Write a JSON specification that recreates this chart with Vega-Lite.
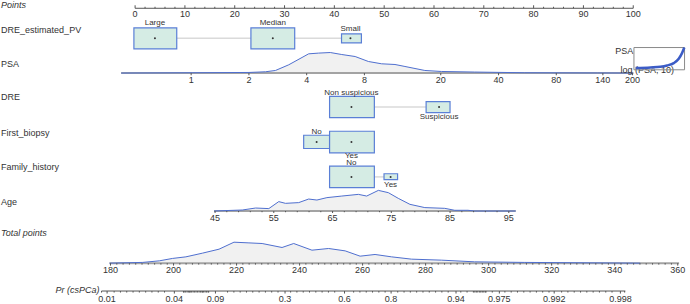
{
"$schema":"https://vega.github.io/schema/vega-lite/v6.json",
"width":690,"height":304,
"autosize":{"type":"fit","contains":"padding"},
"padding":0,
"background":"white",
"config":{"view":{"stroke":null},"text":{"font":"Liberation Sans","fill":"#333333"}},
"datasets":{
"axes":[
{"ax":"Points","p":0,"p2":100,"r":0.139,"tM":0.052,"tm":0.096,"lr":0.304},
{"ax":"PSA","p":-2.8,"p2":100,"r":2.023,"tM":2.087,"tm":2.06,"lr":2.217},
{"ax":"Age","p":15.85,"p2":76.41,"r":6.035,"tM":6.093,"tm":6.07,"lr":6.226},
{"ax":"Total","p":-5.14,"p2":109.2,"r":7.551,"tM":7.623,"tm":7.594,"lr":7.739},
{"ax":"Pr","p":-6.74,"p2":98.41,"r":8.362,"tM":8.435,"tm":8.406,"lr":8.594}
],
"conn":[
{"p":8.36,"p2":41.44,"r":1.014},
{"p":48.03,"p2":58.42,"r":3.01},
{"p":48.03,"p2":49.97,"r":5.043}
],
"levels":[
{"v":"DRE_estimated_PV","lv":"Large","p":3.98,"p1":-0.24,"p2":8.36,"r1":0.71,"r2":1.319,"r":1.014,"lr":0.565},
{"v":"DRE_estimated_PV","lv":"Median","p":27.64,"p1":23.25,"p2":32.04,"r1":0.71,"r2":1.319,"r":1.014,"lr":0.565},
{"v":"DRE_estimated_PV","lv":"Small","p":43.23,"p1":41.44,"p2":45.43,"r1":0.884,"r2":1.145,"r":1.014,"lr":0.739},
{"v":"DRE","lv":"Non suspicious","p":43.43,"p1":39.04,"p2":48.03,"r1":2.701,"r2":3.319,"r":3.01,"lr":2.603},
{"v":"DRE","lv":"Suspicious","p":61.02,"p1":58.42,"p2":63.22,"r1":2.855,"r2":3.174,"r":3.01,"lr":3.299},
{"v":"First_biopsy","lv":"No","p":36.44,"p1":33.84,"p2":39.04,"r1":3.832,"r2":4.217,"r":4.03,"lr":3.745},
{"v":"First_biopsy","lv":"Yes","p":43.43,"p1":39.04,"p2":48.03,"r1":3.716,"r2":4.342,"r":4.03,"lr":4.441},
{"v":"Family_history","lv":"No","p":43.43,"p1":39.04,"p2":48.03,"r1":4.73,"r2":5.357,"r":5.043,"lr":4.632},
{"v":"Family_history","lv":"Yes","p":51.29,"p1":49.97,"p2":52.69,"r1":4.951,"r2":5.125,"r":5.043,"lr":5.281}
],
"vars":[
{"v":"Points","r":0.043,"it":1},
{"v":"DRE_estimated_PV","r":0.768,"it":0},
{"v":"PSA","r":1.754,"it":0},
{"v":"DRE","r":2.71,"it":0},
{"v":"First_biopsy","r":3.754,"it":0},
{"v":"Family_history","r":4.768,"it":0},
{"v":"Age","r":5.783,"it":0},
{"v":"Total points","r":6.681,"it":1}
],
"prlab":[{"v":"Pr (csPCa)","p":-7.14,"r":8.325}],
"dens":[
{"v":"PSA","p":-2.8,"r":2.023},{"v":"PSA","p":11.45,"r":2.014},{"v":"PSA","p":22.85,"r":2.006},{"v":"PSA","p":26.18,"r":1.986},{"v":"PSA","p":28.18,"r":1.948},{"v":"PSA","p":30.84,"r":1.783},{"v":"PSA","p":34.84,"r":1.464},{"v":"PSA","p":36.84,"r":1.443},{"v":"PSA","p":39.18,"r":1.426},{"v":"PSA","p":41.49,"r":1.484},{"v":"PSA","p":44.17,"r":1.542},{"v":"PSA","p":46.83,"r":1.687},{"v":"PSA","p":49.49,"r":1.754},{"v":"PSA","p":52.17,"r":1.774},{"v":"PSA","p":54.17,"r":1.832},{"v":"PSA","p":58.16,"r":1.948},{"v":"PSA","p":61.48,"r":1.977},{"v":"PSA","p":68.16,"r":1.994},{"v":"PSA","p":78.15,"r":2.014},{"v":"PSA","p":92.8,"r":2.02},{"v":"PSA","p":100,"r":2.023},
{"v":"Age","p":15.85,"r":6.035},{"v":"Age","p":21.51,"r":6.006},{"v":"Age","p":24.19,"r":5.948},{"v":"Age","p":26.84,"r":5.965},{"v":"Age","p":28.84,"r":5.762},{"v":"Age","p":30.18,"r":5.812},{"v":"Age","p":32.84,"r":5.791},{"v":"Age","p":34.84,"r":5.687},{"v":"Age","p":36.5,"r":5.716},{"v":"Age","p":38.5,"r":5.646},{"v":"Age","p":41.49,"r":5.6},{"v":"Age","p":44.83,"r":5.551},{"v":"Age","p":46.49,"r":5.6},{"v":"Age","p":48.83,"r":5.435},{"v":"Age","p":50.83,"r":5.501},{"v":"Age","p":52.83,"r":5.667},{"v":"Age","p":55.17,"r":5.841},{"v":"Age","p":58.16,"r":5.936},{"v":"Age","p":62.16,"r":5.957},{"v":"Age","p":64.16,"r":6.014},{"v":"Age","p":66.82,"r":6.014},{"v":"Age","p":68.16,"r":6.035},{"v":"Age","p":76.41,"r":6.035},
{"v":"Total","p":-5.14,"r":7.551},{"v":"Total","p":1.52,"r":7.53},{"v":"Total","p":4.86,"r":7.484},{"v":"Total","p":7.52,"r":7.414},{"v":"Total","p":10.19,"r":7.368},{"v":"Total","p":13.51,"r":7.261},{"v":"Total","p":16.85,"r":7.145},{"v":"Total","p":19.85,"r":6.942},{"v":"Total","p":22.85,"r":6.962},{"v":"Total","p":25.5,"r":6.98},{"v":"Total","p":29.5,"r":7.096},{"v":"Total","p":31.84,"r":6.98},{"v":"Total","p":35.5,"r":7.174},{"v":"Total","p":38.84,"r":7.125},{"v":"Total","p":42.17,"r":7.194},{"v":"Total","p":45.17,"r":7.348},{"v":"Total","p":48.17,"r":7.299},{"v":"Total","p":51.49,"r":7.368},{"v":"Total","p":55.49,"r":7.435},{"v":"Total","p":61.48,"r":7.464},{"v":"Total","p":68.16,"r":7.513},{"v":"Total","p":78.15,"r":7.53},{"v":"Total","p":101.4,"r":7.551}
],
"tlab":[
{"ax":"Points","t":"0","p":0},{"ax":"Points","t":"10","p":10},{"ax":"Points","t":"20","p":20},{"ax":"Points","t":"30","p":30},{"ax":"Points","t":"40","p":40},{"ax":"Points","t":"50","p":50},{"ax":"Points","t":"60","p":60},{"ax":"Points","t":"70","p":70},{"ax":"Points","t":"80","p":80},{"ax":"Points","t":"90","p":90},{"ax":"Points","t":"100","p":100},
{"ax":"PSA","t":"1","p":11.25},{"ax":"PSA","t":"2","p":22.85},{"ax":"PSA","t":"4","p":34.44},{"ax":"PSA","t":"8","p":46.03},{"ax":"PSA","t":"20","p":61.36},{"ax":"PSA","t":"40","p":72.96},{"ax":"PSA","t":"80","p":84.55},{"ax":"PSA","t":"140","p":93.9},{"ax":"PSA","t":"200","p":99.86},
{"ax":"Age","t":"45","p":16.05},{"ax":"Age","t":"55","p":27.84},{"ax":"Age","t":"65","p":39.64},{"ax":"Age","t":"75","p":51.43},{"ax":"Age","t":"85","p":63.23},{"ax":"Age","t":"95","p":75.02},
{"ax":"Total","t":"180","p":-4.94},{"ax":"Total","t":"200","p":7.72},{"ax":"Total","t":"220","p":20.37},{"ax":"Total","t":"240","p":33.02},{"ax":"Total","t":"260","p":45.67},{"ax":"Total","t":"280","p":58.32},{"ax":"Total","t":"300","p":70.97},{"ax":"Total","t":"320","p":83.62},{"ax":"Total","t":"340","p":96.28},{"ax":"Total","t":"360","p":108.93},
{"ax":"Pr","t":"0.01","p":-5.62},{"ax":"Pr","t":"0.04","p":7.88},{"ax":"Pr","t":"0.09","p":16.13},{"ax":"Pr","t":"0.3","p":30.1},{"ax":"Pr","t":"0.6","p":42.04},{"ax":"Pr","t":"0.8","p":51.39},{"ax":"Pr","t":"0.94","p":64.42},{"ax":"Pr","t":"0.975","p":73.12},{"ax":"Pr","t":"0.992","p":84.13},{"ax":"Pr","t":"0.998","p":97.42}
],
"minT":[
{"ax":"Points","p":2},{"ax":"Points","p":4},{"ax":"Points","p":6},{"ax":"Points","p":8},{"ax":"Points","p":12},{"ax":"Points","p":14},{"ax":"Points","p":16},{"ax":"Points","p":18},{"ax":"Points","p":22},{"ax":"Points","p":24},{"ax":"Points","p":26},{"ax":"Points","p":28},{"ax":"Points","p":32},{"ax":"Points","p":34},{"ax":"Points","p":36},{"ax":"Points","p":38},{"ax":"Points","p":42},{"ax":"Points","p":44},{"ax":"Points","p":46},{"ax":"Points","p":48},{"ax":"Points","p":52},{"ax":"Points","p":54},{"ax":"Points","p":56},{"ax":"Points","p":58},{"ax":"Points","p":62},{"ax":"Points","p":64},{"ax":"Points","p":66},{"ax":"Points","p":68},{"ax":"Points","p":72},{"ax":"Points","p":74},{"ax":"Points","p":76},{"ax":"Points","p":78},{"ax":"Points","p":82},{"ax":"Points","p":84},{"ax":"Points","p":86},{"ax":"Points","p":88},{"ax":"Points","p":92},{"ax":"Points","p":94},{"ax":"Points","p":96},{"ax":"Points","p":98},
{"ax":"Age","p":18.41},{"ax":"Age","p":20.77},{"ax":"Age","p":23.13},{"ax":"Age","p":25.48},{"ax":"Age","p":30.2},{"ax":"Age","p":32.56},{"ax":"Age","p":34.92},{"ax":"Age","p":37.28},{"ax":"Age","p":42.0},{"ax":"Age","p":44.36},{"ax":"Age","p":46.72},{"ax":"Age","p":49.07},{"ax":"Age","p":53.79},{"ax":"Age","p":56.15},{"ax":"Age","p":58.51},{"ax":"Age","p":60.87},{"ax":"Age","p":65.59},{"ax":"Age","p":67.95},{"ax":"Age","p":70.31},{"ax":"Age","p":72.66},
{"ax":"Total","p":-3.67},{"ax":"Total","p":-2.41},{"ax":"Total","p":-1.14},{"ax":"Total","p":0.12},{"ax":"Total","p":1.39},{"ax":"Total","p":2.65},{"ax":"Total","p":3.92},{"ax":"Total","p":5.18},{"ax":"Total","p":6.45},{"ax":"Total","p":8.98},{"ax":"Total","p":10.24},{"ax":"Total","p":11.51},{"ax":"Total","p":12.77},{"ax":"Total","p":14.04},{"ax":"Total","p":15.3},{"ax":"Total","p":16.57},{"ax":"Total","p":17.83},{"ax":"Total","p":19.1},{"ax":"Total","p":21.63},{"ax":"Total","p":22.89},{"ax":"Total","p":24.16},{"ax":"Total","p":25.42},{"ax":"Total","p":26.69},{"ax":"Total","p":27.96},{"ax":"Total","p":29.22},{"ax":"Total","p":30.49},{"ax":"Total","p":31.75},{"ax":"Total","p":34.28},{"ax":"Total","p":35.55},{"ax":"Total","p":36.81},{"ax":"Total","p":38.08},{"ax":"Total","p":39.34},{"ax":"Total","p":40.61},{"ax":"Total","p":41.87},{"ax":"Total","p":43.14},{"ax":"Total","p":44.4},{"ax":"Total","p":46.93},{"ax":"Total","p":48.2},{"ax":"Total","p":49.46},{"ax":"Total","p":50.73},{"ax":"Total","p":51.99},{"ax":"Total","p":53.26},{"ax":"Total","p":54.52},{"ax":"Total","p":55.79},{"ax":"Total","p":57.05},{"ax":"Total","p":59.59},{"ax":"Total","p":60.85},{"ax":"Total","p":62.12},{"ax":"Total","p":63.38},{"ax":"Total","p":64.65},{"ax":"Total","p":65.91},{"ax":"Total","p":67.18},{"ax":"Total","p":68.44},{"ax":"Total","p":69.71},{"ax":"Total","p":72.24},{"ax":"Total","p":73.5},{"ax":"Total","p":74.77},{"ax":"Total","p":76.03},{"ax":"Total","p":77.3},{"ax":"Total","p":78.56},{"ax":"Total","p":79.83},{"ax":"Total","p":81.09},{"ax":"Total","p":82.36},{"ax":"Total","p":84.89},{"ax":"Total","p":86.15},{"ax":"Total","p":87.42},{"ax":"Total","p":88.68},{"ax":"Total","p":89.95},{"ax":"Total","p":91.22},{"ax":"Total","p":92.48},{"ax":"Total","p":93.75},{"ax":"Total","p":95.01},{"ax":"Total","p":97.54},{"ax":"Total","p":98.81},{"ax":"Total","p":100.07},{"ax":"Total","p":101.34},{"ax":"Total","p":102.6},{"ax":"Total","p":103.87},{"ax":"Total","p":105.13},{"ax":"Total","p":106.4},{"ax":"Total","p":107.66},
{"ax":"Pr","p":-6.74},{"ax":"Pr","p":-4.21},{"ax":"Pr","p":-2.94},{"ax":"Pr","p":-1.68},{"ax":"Pr","p":-0.41},{"ax":"Pr","p":0.85},{"ax":"Pr","p":2.12},{"ax":"Pr","p":3.38},{"ax":"Pr","p":4.65},{"ax":"Pr","p":5.91},{"ax":"Pr","p":9.71},{"ax":"Pr","p":10.97},{"ax":"Pr","p":12.24},{"ax":"Pr","p":13.5},{"ax":"Pr","p":14.77},{"ax":"Pr","p":18.56},{"ax":"Pr","p":19.83},{"ax":"Pr","p":21.09},{"ax":"Pr","p":22.36},{"ax":"Pr","p":23.62},{"ax":"Pr","p":24.89},{"ax":"Pr","p":26.16},{"ax":"Pr","p":27.42},{"ax":"Pr","p":28.69},{"ax":"Pr","p":31.22},{"ax":"Pr","p":32.48},{"ax":"Pr","p":33.75},{"ax":"Pr","p":35.01},{"ax":"Pr","p":36.28},{"ax":"Pr","p":37.54},{"ax":"Pr","p":38.81},{"ax":"Pr","p":40.07},{"ax":"Pr","p":43.87},{"ax":"Pr","p":45.13},{"ax":"Pr","p":46.4},{"ax":"Pr","p":47.66},{"ax":"Pr","p":48.93},{"ax":"Pr","p":50.19},{"ax":"Pr","p":52.72},{"ax":"Pr","p":53.99},{"ax":"Pr","p":55.25},{"ax":"Pr","p":56.52},{"ax":"Pr","p":57.79},{"ax":"Pr","p":59.05},{"ax":"Pr","p":60.32},{"ax":"Pr","p":61.58},{"ax":"Pr","p":62.85},{"ax":"Pr","p":65.38},{"ax":"Pr","p":66.64},{"ax":"Pr","p":67.91},{"ax":"Pr","p":69.17},{"ax":"Pr","p":70.44},{"ax":"Pr","p":71.7},{"ax":"Pr","p":74.23},{"ax":"Pr","p":75.5},{"ax":"Pr","p":76.76},{"ax":"Pr","p":78.03},{"ax":"Pr","p":79.29},{"ax":"Pr","p":80.56},{"ax":"Pr","p":81.82},{"ax":"Pr","p":83.09},{"ax":"Pr","p":85.62},{"ax":"Pr","p":86.88},{"ax":"Pr","p":88.15},{"ax":"Pr","p":89.42},{"ax":"Pr","p":90.68},{"ax":"Pr","p":91.95},{"ax":"Pr","p":93.21},{"ax":"Pr","p":94.48},{"ax":"Pr","p":95.74},{"ax":"Pr","p":98.27},
{"ax":"Pr","p":9.85},{"ax":"Pr","p":10.15},{"ax":"Pr","p":10.45},{"ax":"Pr","p":10.75},{"ax":"Pr","p":11.05},{"ax":"Pr","p":11.35},{"ax":"Pr","p":11.65},{"ax":"Pr","p":11.95},{"ax":"Pr","p":12.55},{"ax":"Pr","p":12.85},{"ax":"Pr","p":13.15},{"ax":"Pr","p":13.45},{"ax":"Pr","p":13.75},{"ax":"Pr","p":14.05},{"ax":"Pr","p":14.35},{"ax":"Pr","p":14.65},
{"ax":"Pr","p":68.2},{"ax":"Pr","p":68.5},{"ax":"Pr","p":68.8},{"ax":"Pr","p":69.4},{"ax":"Pr","p":69.7},{"ax":"Pr","p":70.0},{"ax":"Pr","p":70.3}
],
"inset":[{"p":100.14,"p2":110.3,"r":1.281,"r2":1.928}],
"insetc":[
{"p":100.46,"r":1.878},{"p":103.46,"r":1.861},{"p":105.46,"r":1.841},{"p":106.8,"r":1.803},{"p":108.13,"r":1.733},{"p":109.13,"r":1.609},{"p":109.79,"r":1.443},{"p":110.25,"r":1.281}
],
"insetr":[{"t":"PSA","p":100.0,"r":1.377}],
"insetb":[{"t":"log (PSA, 10)","p":102.8,"r":1.928}]
},
"layer":[
{"data":{"name":"conn"},"mark":{"type":"rule","stroke":"#dadada","strokeWidth":1.5},
 "encoding":{"x":{"field":"p","type":"quantitative","scale":{"domain":[-27.12,110.79],"nice":false,"zero":false},"axis":null},"x2":{"field":"p2"},
 "y":{"field":"r","type":"quantitative","scale":{"domain":[-0.1014,8.7101],"nice":false,"zero":false,"reverse":true},"axis":null}}},
{"data":{"name":"dens"},"transform":[{"lookup":"v","from":{"data":{"name":"axes"},"key":"ax","fields":["r"]},"as":["b"]}],
 "mark":{"type":"area","fill":"#f1f1f1"},
 "encoding":{"x":{"field":"p","type":"quantitative","scale":{"domain":[-27.12,110.79],"nice":false,"zero":false},"axis":null},
 "y":{"field":"r","type":"quantitative","scale":{"domain":[-0.1014,8.7101],"nice":false,"zero":false,"reverse":true},"axis":null},"y2":{"field":"b"},"detail":{"field":"v"}}},
{"data":{"name":"axes"},"transform":[{"filter":"datum.ax=='PSA'||datum.ax=='Age'||datum.ax=='Total'"}],"mark":{"type":"rule","stroke":"#a3a3a3","strokeWidth":2},
 "encoding":{"x":{"field":"p","type":"quantitative","scale":{"domain":[-27.12,110.79],"nice":false,"zero":false},"axis":null},"x2":{"field":"p2"},
 "y":{"field":"r","type":"quantitative","scale":{"domain":[-0.1014,8.7101],"nice":false,"zero":false,"reverse":true},"axis":null}}},
{"data":{"name":"axes"},"transform":[{"filter":"datum.ax=='Points'||datum.ax=='Pr'"}],"mark":{"type":"rule","stroke":"#555555","strokeWidth":1},
 "encoding":{"x":{"field":"p","type":"quantitative","scale":{"domain":[-27.12,110.79],"nice":false,"zero":false},"axis":null},"x2":{"field":"p2"},
 "y":{"field":"r","type":"quantitative","scale":{"domain":[-0.1014,8.7101],"nice":false,"zero":false,"reverse":true},"axis":null}}},
{"data":{"name":"dens"},"mark":{"type":"line","stroke":"#4f6fcf","strokeWidth":1},
 "encoding":{"x":{"field":"p","type":"quantitative","scale":{"domain":[-27.12,110.79],"nice":false,"zero":false},"axis":null},
 "y":{"field":"r","type":"quantitative","scale":{"domain":[-0.1014,8.7101],"nice":false,"zero":false,"reverse":true},"axis":null},"detail":{"field":"v"}}},
{"data":{"name":"minT"},"transform":[{"lookup":"ax","from":{"data":{"name":"axes"},"key":"ax","fields":["r","tm"]}}],"mark":{"type":"rule","stroke":"#555555","strokeWidth":1},
 "encoding":{"x":{"field":"p","type":"quantitative","scale":{"domain":[-27.12,110.79],"nice":false,"zero":false},"axis":null},
 "y":{"field":"r","type":"quantitative","scale":{"domain":[-0.1014,8.7101],"nice":false,"zero":false,"reverse":true},"axis":null},"y2":{"field":"tm"}}},
{"data":{"name":"tlab"},"transform":[{"lookup":"ax","from":{"data":{"name":"axes"},"key":"ax","fields":["r","tM","lr"]}}],"mark":{"type":"rule","stroke":"#555555","strokeWidth":1},
 "encoding":{"x":{"field":"p","type":"quantitative","scale":{"domain":[-27.12,110.79],"nice":false,"zero":false},"axis":null},
 "y":{"field":"r","type":"quantitative","scale":{"domain":[-0.1014,8.7101],"nice":false,"zero":false,"reverse":true},"axis":null},"y2":{"field":"tM"}}},
{"data":{"name":"tlab"},"transform":[{"lookup":"ax","from":{"data":{"name":"axes"},"key":"ax","fields":["lr"]}}],"mark":{"type":"text","fontSize":9,"align":"center","baseline":"middle"},
 "encoding":{"x":{"field":"p","type":"quantitative","scale":{"domain":[-27.12,110.79],"nice":false,"zero":false},"axis":null},
 "y":{"field":"lr","type":"quantitative","scale":{"domain":[-0.1014,8.7101],"nice":false,"zero":false,"reverse":true},"axis":null},"text":{"field":"t"}}},
{"data":{"name":"levels"},"mark":{"type":"rect","fill":"#d5ece4","stroke":"#5a7fd6","strokeWidth":1.2},
 "encoding":{"x":{"field":"p1","type":"quantitative","scale":{"domain":[-27.12,110.79],"nice":false,"zero":false},"axis":null},"x2":{"field":"p2"},
 "y":{"field":"r1","type":"quantitative","scale":{"domain":[-0.1014,8.7101],"nice":false,"zero":false,"reverse":true},"axis":null},"y2":{"field":"r2"}}},
{"data":{"name":"levels"},"mark":{"type":"circle","size":4,"color":"#333333","opacity":1},
 "encoding":{"x":{"field":"p","type":"quantitative","scale":{"domain":[-27.12,110.79],"nice":false,"zero":false},"axis":null},
 "y":{"field":"r","type":"quantitative","scale":{"domain":[-0.1014,8.7101],"nice":false,"zero":false,"reverse":true},"axis":null}}},
{"data":{"name":"levels"},"mark":{"type":"text","fontSize":8,"align":"center","baseline":"middle"},
 "encoding":{"x":{"field":"p","type":"quantitative","scale":{"domain":[-27.12,110.79],"nice":false,"zero":false},"axis":null},
 "y":{"field":"lr","type":"quantitative","scale":{"domain":[-0.1014,8.7101],"nice":false,"zero":false,"reverse":true},"axis":null},"text":{"field":"lv"}}},
{"data":{"name":"vars"},"transform":[{"filter":"datum.it==0"}],"mark":{"type":"text","fontSize":9,"align":"left","baseline":"middle"},
 "encoding":{"x":{"datum":-26.9,"type":"quantitative","scale":{"domain":[-27.12,110.79],"nice":false,"zero":false},"axis":null},
 "y":{"field":"r","type":"quantitative","scale":{"domain":[-0.1014,8.7101],"nice":false,"zero":false,"reverse":true},"axis":null},"text":{"field":"v"}}},
{"data":{"name":"vars"},"transform":[{"filter":"datum.it==1"}],"mark":{"type":"text","fontSize":9,"align":"left","baseline":"middle","fontStyle":"italic"},
 "encoding":{"x":{"datum":-26.9,"type":"quantitative","scale":{"domain":[-27.12,110.79],"nice":false,"zero":false},"axis":null},
 "y":{"field":"r","type":"quantitative","scale":{"domain":[-0.1014,8.7101],"nice":false,"zero":false,"reverse":true},"axis":null},"text":{"field":"v"}}},
{"data":{"name":"prlab"},"mark":{"type":"text","fontSize":9,"align":"right","baseline":"middle","fontStyle":"italic"},
 "encoding":{"x":{"field":"p","type":"quantitative","scale":{"domain":[-27.12,110.79],"nice":false,"zero":false},"axis":null},
 "y":{"field":"r","type":"quantitative","scale":{"domain":[-0.1014,8.7101],"nice":false,"zero":false,"reverse":true},"axis":null},"text":{"field":"v"}}},
{"data":{"name":"insetb"},"mark":{"type":"text","fontSize":9,"align":"center","baseline":"middle"},
 "encoding":{"x":{"field":"p","type":"quantitative","scale":{"domain":[-27.12,110.79],"nice":false,"zero":false},"axis":null},
 "y":{"field":"r","type":"quantitative","scale":{"domain":[-0.1014,8.7101],"nice":false,"zero":false,"reverse":true},"axis":null},"text":{"field":"t"}}},
{"data":{"name":"insetr"},"mark":{"type":"text","fontSize":9,"align":"right","baseline":"middle"},
 "encoding":{"x":{"field":"p","type":"quantitative","scale":{"domain":[-27.12,110.79],"nice":false,"zero":false},"axis":null},
 "y":{"field":"r","type":"quantitative","scale":{"domain":[-0.1014,8.7101],"nice":false,"zero":false,"reverse":true},"axis":null},"text":{"field":"t"}}},
{"data":{"name":"inset"},"mark":{"type":"rect","fill":null,"fillOpacity":0,"stroke":"#8a8a8a","strokeWidth":1},
 "encoding":{"x":{"field":"p","type":"quantitative","scale":{"domain":[-27.12,110.79],"nice":false,"zero":false},"axis":null},"x2":{"field":"p2"},
 "y":{"field":"r","type":"quantitative","scale":{"domain":[-0.1014,8.7101],"nice":false,"zero":false,"reverse":true},"axis":null},"y2":{"field":"r2"}}},
{"data":{"name":"insetc"},"mark":{"type":"line","stroke":"#3c5cc6","strokeWidth":2.5,"interpolate":"monotone"},
 "encoding":{"x":{"field":"p","type":"quantitative","scale":{"domain":[-27.12,110.79],"nice":false,"zero":false},"axis":null},
 "y":{"field":"r","type":"quantitative","scale":{"domain":[-0.1014,8.7101],"nice":false,"zero":false,"reverse":true},"axis":null}}}
]
}
